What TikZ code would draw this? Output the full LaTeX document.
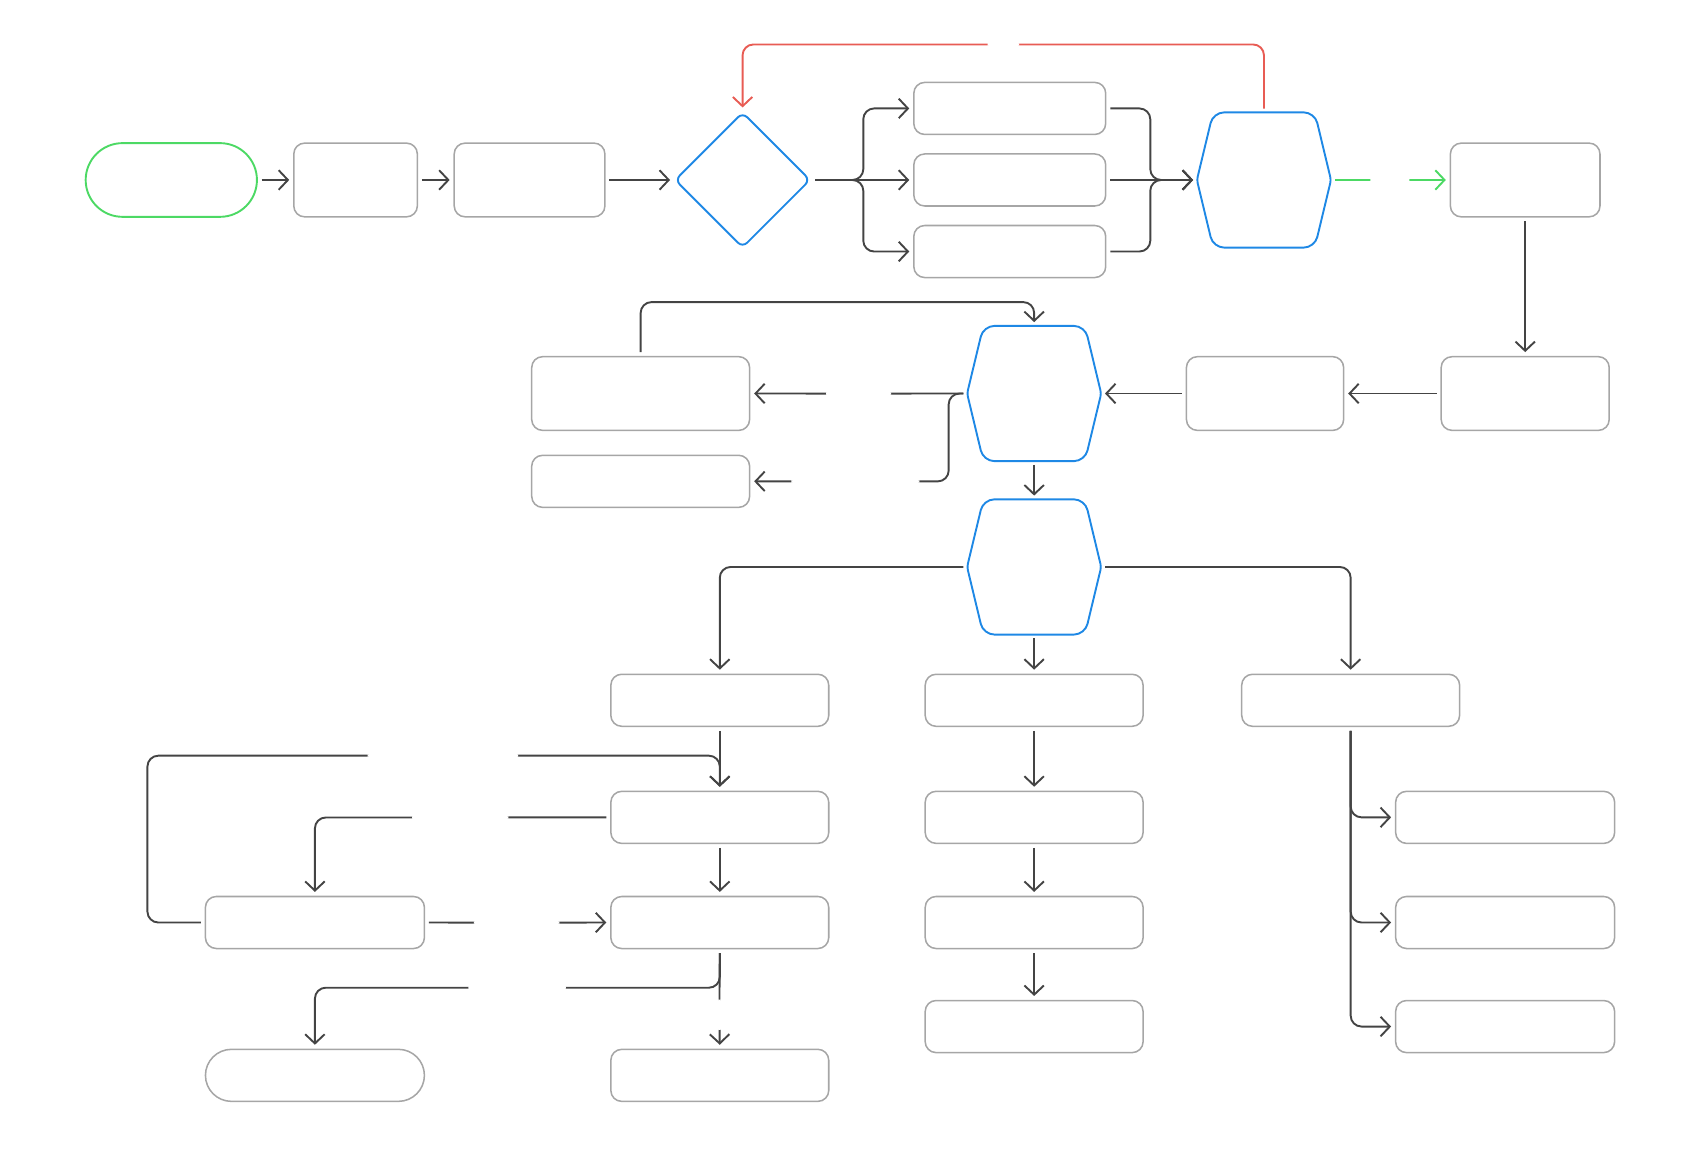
\documentclass[tikz,border=0pt]{standalone}
\usepackage{tikz}
\usetikzlibrary{arrows.meta,shapes.geometric,positioning}
\definecolor{startgreen}{RGB}{76,217,100}
\definecolor{hexblue}{RGB}{30,136,229}
\definecolor{alertred}{RGB}{232,92,84}
\definecolor{boxgray}{RGB}{166,166,166}
\definecolor{linegray}{RGB}{68,68,68}

\begin{document}
\begin{tikzpicture}[x=0.02cm,y=-0.02cm,->,>={Straight Barb[length=1.7mm,width=3.6mm]},shorten >=2pt,shorten <=2pt,node distance=3.4cm]
\tikzstyle{box}=[draw=boxgray,line width=0.8pt,rounded corners=0.2cm,minimum height=1.36cm,inner sep=0pt,fill=white]
\tikzstyle{slim}=[box,minimum height=0.96cm]
\tikzstyle{pill}=[draw=startgreen,line width=1pt,rounded corners=0.68cm,minimum width=3.16cm,minimum height=1.36cm,inner sep=0pt]
\tikzstyle{endpill}=[slim,rounded corners=0.48cm]
\tikzstyle{decision}=[diamond,draw=hexblue,line width=1pt,rounded corners=0.12cm,minimum width=2.5cm,minimum height=2.5cm,inner sep=0pt]
\tikzstyle{hexagon}=[minimum width=2.46cm,minimum height=2.48cm,inner sep=0pt]
\tikzstyle{hexline}=[-,shorten >=0pt,shorten <=0pt,draw=hexblue,line width=1pt,rounded corners=0.2cm]
\tikzstyle{flow}=[draw=linegray,line width=1pt,rounded corners=0.2cm]
\tikzstyle{gap}=[fill=white,inner sep=0pt,minimum height=0.3cm]
\useasboundingbox (0,0) rectangle (1568,1069);
\node[pill]                     (start) at (158,166) {};
\node[box,minimum width=2.28cm] (b1) [right of=start] {};
\node[box,minimum width=2.78cm] (b2) [right of=b1,node distance=3.21cm] {};
\node[decision]                 (d1) [right of=b2,node distance=3.93cm] {};
\node[slim,minimum width=3.54cm] (p2) [right of=d1,node distance=4.93cm] {};
\node[slim,minimum width=3.54cm] (p1) [above of=p2,node distance=1.32cm] {};
\node[slim,minimum width=3.54cm] (p3) [below of=p2,node distance=1.32cm] {};
\node[hexagon]                  (h1) [right of=p2,node distance=4.69cm] {};
\node[box,minimum width=2.76cm] (r1) [right of=h1,node distance=4.82cm] {};
\node[box,minimum width=3.1cm]  (r2) [below of=r1,node distance=3.94cm] {};
\node[box,minimum width=2.9cm]  (r3) [left of=r2,node distance=4.8cm] {};
\node[hexagon]                  (h2) [left of=r3,node distance=4.26cm] {};
\node[box,minimum width=4.02cm] (l1) [left of=h2,node distance=7.26cm] {};
\node[slim,minimum width=4.02cm] (l2) [below of=l1,node distance=1.62cm] {};
\node[hexagon]                  (h3) [below of=h2,node distance=3.2cm] {};
\node[slim,minimum width=4.02cm] (c2) [below of=h3,node distance=2.46cm] {};
\node[slim,minimum width=4.02cm] (c1) [left of=c2,node distance=5.8cm] {};
\node[slim,minimum width=4.02cm] (c3) [right of=c2,node distance=5.84cm] {};
\node[slim,minimum width=4.02cm] (c1a) [below of=c1,node distance=2.16cm] {};
\node[slim,minimum width=4.02cm] (c1b) [below of=c1a,node distance=1.94cm] {};
\node[slim,minimum width=4.02cm] (c1c) [below of=c1b,node distance=2.82cm] {};
\node[slim,minimum width=4.04cm] (lA) [left of=c1b,node distance=7.47cm] {};
\node[endpill,minimum width=4.04cm] (lB) [below of=lA,node distance=2.82cm] {};
\node[slim,minimum width=4.02cm] (c2a) [below of=c2,node distance=2.16cm] {};
\node[slim,minimum width=4.02cm] (c2b) [below of=c2a,node distance=1.94cm] {};
\node[slim,minimum width=4.02cm] (c2c) [below of=c2b,node distance=1.92cm] {};
\node[slim,minimum width=4.04cm] (q1) [right of=c2a,node distance=8.69cm] {};
\node[slim,minimum width=4.04cm] (q2) [right of=c2b,node distance=8.69cm] {};
\node[slim,minimum width=4.04cm] (q3) [right of=c2c,node distance=8.69cm] {};
\foreach \h in {h1,h2,h3}
  \draw[hexline] (\h.north) -- ([xshift=-0.3cm]\h.north east) [rounded corners=0.06cm] -- (\h.east) [rounded corners=0.2cm] -- ([xshift=-0.3cm]\h.south east)
    -- ([xshift=0.3cm]\h.south west) [rounded corners=0.06cm] -- (\h.west) [rounded corners=0.2cm] -- ([xshift=0.3cm]\h.north west) -- cycle;
\draw[flow] (start) -- (b1);
\draw[flow] (b1) -- (b2);
\draw[flow] (b2) -- (d1);
\draw[flow] (d1.east) -- ++(48,0) |- (p1.west);
\draw[flow] (d1.east) -- (p2.west);
\draw[flow] (d1.east) -- ++(48,0) |- (p3.west);
\draw[flow] (p1.east) -| ([xshift=-0.86cm]h1.west) -- (h1.west);
\draw[flow] (p2) -- (h1);
\draw[flow] (p3.east) -| ([xshift=-0.86cm]h1.west) -- (h1.west);
\draw[flow,draw=alertred] (h1.north) |- (925.5,41) node[gap,minimum width=0.58cm] {} -| (d1.north);
\draw[flow,draw=startgreen] (h1.east) -- (1282,166) node[gap,minimum width=0.72cm] {} -- (r1.west);
\draw[flow] (r1.south) -- (r1.south |- r2.north);
\draw[flow] (r2) -- (r3);
\draw[flow] (r3) -- (h2);
\draw[flow] (h2.west) -- (792,363) node[gap,minimum width=1.2cm] {} -- (l1.east);
\draw[flow] (h2.west) -| (875,444) -- (789,444) node[gap,minimum width=2.36cm] {} -- (l2.east);
\draw[flow] (l1.north) |- ([yshift=0.44cm]h2.north) -- (h2.north);
\draw[flow] (h2) -- (h3);
\draw[flow] (h3.west) -| (c1.north);
\draw[flow] (h3) -- (c2);
\draw[flow] (h3.east) -| (c3.north);
\draw[flow] (c1) -- (c1a);
\draw[flow] (c1a) -- (c1b);
\draw[flow] (lA.west) -| (136,697) -- (408.5,697) node[gap,minimum width=2.78cm] {} -| (c1a.north);
\draw[flow] (c1a.west) -- (424.5,754) node[gap,minimum width=1.78cm] {} -| (lA.north);
\draw[flow] (lA.east) -- (476.5,851) node[gap,minimum width=1.58cm] {} -- (c1b.west);
\draw[flow] (c1b.south) -- (663.5,936) node[gap,minimum width=0.3cm,minimum height=0.56cm] {} -- (c1c.north);
\draw[flow] (c1b.south) |- (477,911) node[gap,minimum width=1.8cm] {} -| (lB.north);
\draw[flow] (c2) -- (c2a);
\draw[flow] (c2a) -- (c2b);
\draw[flow] (c2b) -- (c2c);
\foreach \q in {q1,q2,q3}
  \draw[flow] (c3.south) |- (\q.west);
\end{tikzpicture}
\end{document}
